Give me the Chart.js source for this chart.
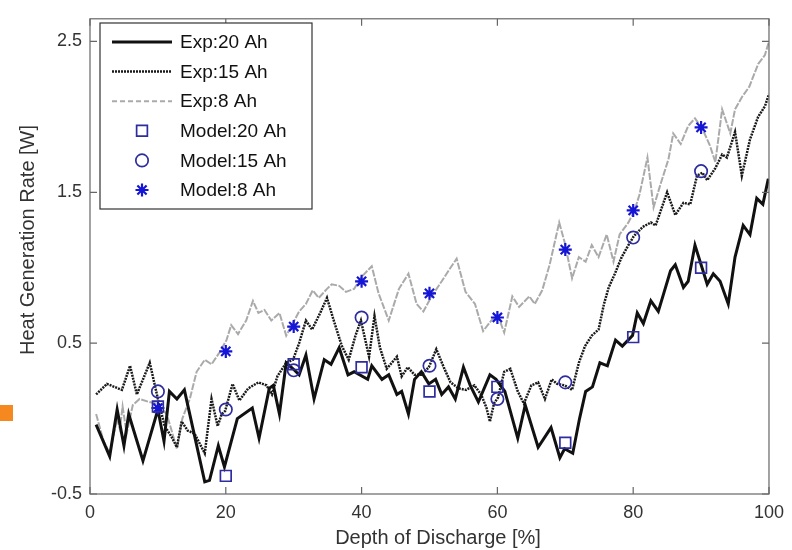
<!DOCTYPE html>
<html>
<head>
<meta charset="utf-8">
<script src="https://cdn.jsdelivr.net/npm/chart.js@4.4.0/dist/chart.umd.min.js"></script>
<style>
  body { margin: 0; background: #fff; }
  #wrap { position: relative; width: 792px; height: 550px; }
  #mark { position: absolute; left: 0; top: 405px; width: 13px; height: 16px; background: #f5891f; }
</style>
</head>
<body>
<div id="wrap">
  <canvas id="chart" width="792" height="550"></canvas>
  <div id="mark"></div>
</div>
<script>
// Axis ticks and titles
const xTicks = [0, 20, 40, 60, 80, 100];
const yTicks = [-0.5, 0.5, 1.5, 2.5];
const xTitle = 'Depth of Discharge [%]';
const yTitle = 'Heat Generation Rate [W]';

// Experimental curves (depth of discharge %, heat rate W)
const exp20X = [0.9, 2.9, 4.0, 5.0, 5.7, 7.8, 10.0, 10.9, 11.7, 12.8, 13.9, 16.9, 17.6, 18.9, 19.8, 21.7, 23.9, 24.9, 26.4, 27.0, 27.9, 28.9, 29.9, 30.8, 31.8, 33.0, 34.5, 35.5, 36.7, 38.0, 38.9, 40.9, 41.5, 43.0, 44.0, 45.2, 45.9, 46.9, 47.8, 48.8, 49.9, 50.9, 51.8, 52.8, 53.8, 55.0, 56.0, 57.2, 58.9, 59.8, 61.1, 63.0, 64.1, 66.0, 67.9, 69.2, 69.9, 71.1, 72.1, 73.0, 74.0, 75.1, 76.2, 77.4, 78.4, 79.9, 80.6, 81.5, 82.6, 83.7, 84.5, 85.5, 86.2, 87.4, 88.1, 89.1, 90.9, 91.8, 92.8, 94.0, 95.0, 96.2, 97.2, 98.2, 99.1, 99.9];
const exp20Y = [-0.04, -0.25, 0.06, -0.18, 0.03, -0.28, 0.06, -0.15, 0.18, 0.13, 0.19, -0.42, -0.41, -0.18, -0.32, 0.00, 0.07, -0.13, 0.20, 0.22, 0.03, 0.37, 0.33, 0.29, 0.42, 0.13, 0.39, 0.36, 0.47, 0.29, 0.31, 0.26, 0.35, 0.26, 0.29, 0.16, 0.18, 0.03, 0.26, 0.31, 0.23, 0.26, 0.16, 0.21, 0.13, 0.34, 0.22, 0.11, 0.29, 0.26, 0.18, -0.13, 0.09, -0.19, -0.06, -0.26, -0.20, -0.23, 0.00, 0.18, 0.21, 0.37, 0.35, 0.52, 0.48, 0.55, 0.70, 0.63, 0.78, 0.71, 0.83, 0.98, 1.02, 0.87, 0.91, 1.15, 0.89, 0.96, 0.91, 0.76, 1.07, 1.28, 1.22, 1.46, 1.42, 1.59];

const exp15X = [0.9, 2.5, 4.7, 5.9, 6.9, 8.8, 10.0, 11.0, 12.0, 12.8, 13.5, 14.4, 15.4, 16.9, 17.9, 18.8, 19.4, 19.9, 21.0, 22.0, 23.3, 24.8, 26.0, 26.8, 27.6, 28.9, 29.9, 30.8, 31.8, 32.7, 33.9, 34.9, 35.9, 37.1, 38.1, 39.1, 39.9, 41.1, 41.9, 42.7, 43.7, 45.2, 45.9, 46.8, 47.8, 48.8, 49.9, 51.0, 52.1, 53.1, 54.3, 55.4, 56.6, 57.6, 58.4, 58.9, 59.5, 60.1, 61.0, 61.9, 63.0, 63.9, 65.0, 66.0, 67.0, 68.0, 68.8, 69.9, 71.0, 72.0, 72.9, 73.9, 74.9, 75.7, 76.4, 77.3, 78.3, 79.3, 80.1, 81.4, 82.6, 83.3, 85.0, 86.2, 87.4, 88.4, 89.4, 90.2, 90.9, 92.1, 93.1, 93.8, 95.0, 96.0, 97.2, 98.4, 99.4, 100];
const exp15Y = [0.16, 0.23, 0.19, 0.35, 0.16, 0.37, 0.13, -0.05, -0.12, -0.19, -0.02, -0.08, -0.10, -0.23, 0.13, -0.05, 0.03, 0.05, 0.23, 0.12, 0.20, 0.24, 0.22, 0.16, 0.28, 0.37, 0.39, 0.50, 0.65, 0.59, 0.70, 0.80, 0.65, 0.48, 0.39, 0.55, 0.65, 0.41, 0.68, 0.47, 0.33, 0.41, 0.28, 0.34, 0.29, 0.29, 0.34, 0.46, 0.34, 0.24, 0.20, 0.19, 0.22, 0.16, 0.07, -0.02, 0.10, 0.14, 0.31, 0.33, 0.18, 0.10, 0.22, 0.24, 0.13, 0.26, 0.23, 0.22, 0.19, 0.37, 0.48, 0.55, 0.59, 0.76, 0.87, 0.96, 1.07, 1.15, 1.21, 1.27, 1.30, 1.28, 1.50, 1.35, 1.43, 1.42, 1.61, 1.63, 1.58, 1.66, 1.75, 1.73, 1.90, 1.61, 1.85, 2.00, 2.07, 2.15];

const exp8X = [0.9, 2.0, 2.9, 4.0, 4.4, 4.8, 5.4, 6.3, 7.3, 8.7, 9.8, 11.3, 12.8, 13.6, 14.7, 15.7, 16.9, 17.9, 19.1, 20.1, 20.8, 21.8, 23.0, 24.0, 24.8, 25.7, 26.7, 27.9, 28.9, 30.8, 31.8, 32.8, 33.7, 34.9, 35.6, 36.7, 37.7, 38.9, 40.0, 41.5, 42.5, 44.0, 45.5, 46.9, 48.1, 49.1, 50.3, 51.8, 52.8, 54.0, 55.3, 56.7, 57.9, 59.1, 60.1, 61.0, 62.2, 63.2, 64.7, 65.5, 66.6, 67.7, 69.1, 69.9, 71.0, 72.0, 73.0, 73.9, 74.9, 76.1, 77.1, 78.0, 79.3, 80.2, 80.9, 82.1, 83.0, 84.0, 85.2, 85.9, 87.0, 88.1, 89.1, 90.2, 91.3, 92.1, 93.1, 94.3, 95.0, 96.0, 97.1, 98.4, 99.4, 100];
const exp8Y = [0.03, -0.15, -0.23, 0.00, -0.07, 0.08, -0.10, 0.09, 0.13, 0.11, 0.10, 0.03, -0.20, 0.00, 0.13, 0.31, 0.39, 0.36, 0.44, 0.52, 0.62, 0.56, 0.65, 0.78, 0.70, 0.72, 0.65, 0.70, 0.55, 0.71, 0.76, 0.85, 0.80, 0.86, 0.89, 0.88, 0.84, 0.86, 0.94, 1.01, 0.83, 0.65, 0.86, 0.96, 0.76, 0.71, 0.81, 0.91, 0.98, 1.06, 0.84, 0.76, 0.58, 0.65, 0.68, 0.57, 0.81, 0.74, 0.81, 0.76, 0.85, 1.02, 1.30, 1.17, 0.93, 1.07, 1.04, 1.15, 1.07, 1.22, 1.04, 1.22, 1.30, 1.38, 1.48, 1.73, 1.40, 1.55, 1.72, 1.89, 1.82, 1.94, 1.99, 1.92, 1.81, 1.70, 2.05, 1.89, 2.05, 2.13, 2.20, 2.35, 2.41, 2.50];

// Model points
const modelX = [10, 20, 30, 40, 50, 60, 70, 80, 90];
const model20 = [0.08, -0.38, 0.36, 0.34, 0.18, 0.21, -0.16, 0.54, 1.00];
const model15 = [0.18, 0.06, 0.32, 0.67, 0.35, 0.13, 0.24, 1.20, 1.64];
const model8 = [0.07, 0.445, 0.61, 0.91, 0.83, 0.67, 1.12, 1.38, 1.93];

const FONT = "'Liberation Sans', Arial, sans-serif";
const pts = (xs, ys) => xs.map((x, i) => ({ x: x, y: ys[i] }));

const lineSet = (label, xs, ys, color, width, dash, legendDash, order) => ({
    label, data: pts(xs, ys), showLine: true, borderColor: color, borderWidth: width,
    borderDash: dash, legendDash: legendDash, pointRadius: 0, tension: 0, order: order
});
const markSet = (label, ys, style, radius, color, width) => ({
    label, data: pts(modelX, ys), showLine: false, pointStyle: style, pointRadius: radius,
    borderColor: color, backgroundColor: 'rgba(0,0,0,0)', pointBorderWidth: width, order: 0
});

// Frame, inward ticks, axis titles and legend drawn inside the axes
const framePlugin = {
    id: 'frame',
    afterDraw(chart) {
        const { ctx, chartArea: a, scales } = chart;
        ctx.save();
        ctx.strokeStyle = '#666';
        ctx.lineWidth = 1.2;
        ctx.setLineDash([]);
        ctx.strokeRect(a.left, a.top, a.right - a.left, a.bottom - a.top);
        ctx.beginPath();
        xTicks.forEach(v => {
            const p = scales.x.getPixelForValue(v);
            ctx.moveTo(p, a.bottom); ctx.lineTo(p, a.bottom - 7);
            ctx.moveTo(p, a.top); ctx.lineTo(p, a.top + 7);
        });
        yTicks.forEach(v => {
            const p = scales.y.getPixelForValue(v);
            ctx.moveTo(a.left, p); ctx.lineTo(a.left + 7, p);
            ctx.moveTo(a.right, p); ctx.lineTo(a.right - 7, p);
        });
        ctx.stroke();

        // axis titles
        ctx.fillStyle = '#333';
        ctx.font = '20px ' + FONT;
        ctx.textAlign = 'center';
        ctx.textBaseline = 'middle';
        ctx.fillText(xTitle, 438, 538);
        ctx.save();
        ctx.translate(28, 240);
        ctx.rotate(-Math.PI / 2);
        ctx.fillText(yTitle, 0, 0);
        ctx.restore();

        // legend box
        const bx = 100, by = 23, bw = 212, bh = 186;
        ctx.fillStyle = '#fff';
        ctx.fillRect(bx, by, bw, bh);
        ctx.strokeStyle = '#333';
        ctx.lineWidth = 1.2;
        ctx.strokeRect(bx, by, bw, bh);
        ctx.font = '19px ' + FONT;
        ctx.textAlign = 'left';
        chart.data.datasets.forEach((ds, i) => {
            const y = 42 + i * 29.6;
            ctx.save();
            if (ds.showLine) {
                ctx.strokeStyle = ds.borderColor;
                ctx.lineWidth = ds.borderWidth;
                ctx.setLineDash(ds.legendDash || []);
                ctx.beginPath();
                ctx.moveTo(112, y); ctx.lineTo(172, y);
                ctx.stroke();
            } else {
                ctx.strokeStyle = ds.borderColor;
                ctx.fillStyle = 'rgba(0,0,0,0)';
                ctx.lineWidth = ds.pointBorderWidth;
                Chart.helpers.drawPoint(ctx, { pointStyle: ds.pointStyle, radius: ds.pointRadius, rotation: 0, borderWidth: ds.pointBorderWidth }, 142, y);
            }
            ctx.restore();
            ctx.fillStyle = '#111';
            ctx.fillText(ds.label, 180, y + 1);
        });
        ctx.restore();
    }
};

new Chart(document.getElementById('chart'), {
    type: 'scatter',
    data: {
        datasets: [
            lineSet('Exp:20 Ah', exp20X, exp20Y, '#111111', 3, [], [], 1),
            lineSet('Exp:15 Ah', exp15X, exp15Y, '#1a1a1a', 2.5, [2, 1], [2, 1], 2),
            lineSet('Exp:8 Ah', exp8X, exp8Y, '#aaaaaa', 2, [7, 1.5], [5, 3], 3),
            markSet('Model:20 Ah', model20, 'rect', 7.6, '#2d2da0', 1.7),
            markSet('Model:15 Ah', model15, 'circle', 6.2, '#2d2da0', 1.7),
            markSet('Model:8 Ah', model8, 'star', 6.5, '#1515d5', 2.2)
        ]
    },
    options: {
        responsive: false,
        animation: false,
        layout: { padding: { top: 10, right: 20, left: 0, bottom: 0 } },
        plugins: { legend: { display: false }, tooltip: { enabled: false } },
        scales: {
            x: {
                type: 'linear', min: 0, max: 100,
                afterBuildTicks: s => { s.ticks = xTicks.map(v => ({ value: v })); },
                afterFit: s => { s.height = 56; },
                grid: { display: false, drawTicks: false },
                border: { display: false },
                ticks: { padding: 8, color: '#333', font: { size: 18, family: FONT } }
            },
            y: {
                min: -0.5, max: 2.65,
                afterBuildTicks: s => { s.ticks = yTicks.map(v => ({ value: v })); },
                afterFit: s => { s.width = 90; },
                grid: { display: false, drawTicks: false },
                border: { display: false },
                ticks: { padding: 8, color: '#333', font: { size: 18, family: FONT }, callback: v => v.toFixed(1) }
            }
        }
    },
    plugins: [framePlugin]
});
</script>
</body>
</html>
